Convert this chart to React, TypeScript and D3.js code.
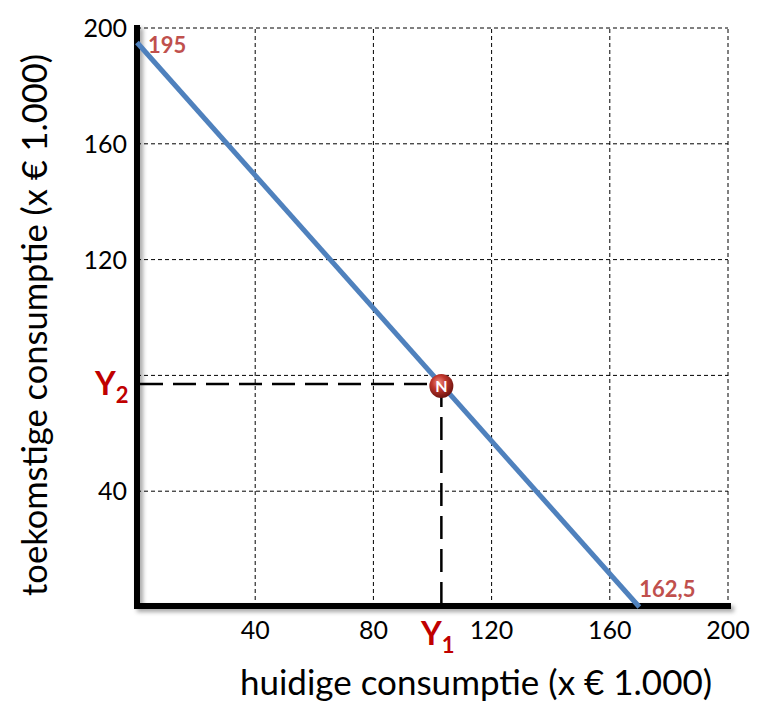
import React, { useEffect, useRef } from 'react';
import * as d3 from 'd3';

const xTicks = [40, 80, 120, 160, 200];
const yTickLabels = [40, 120, 160, 200];
const yGrid = [40, 80, 120, 160, 200];
const budgetLine = [
  { x: 0, y: 195 },
  { x: 170, y: 0 },
];
const pointN = { x: 103, y: 77 };
const startLabel = '195';
const endLabel = '162,5';

const App: React.FC = () => {
  const svgRef = useRef<SVGSVGElement>(null);
  const width = 769;
  const height = 728;

  useEffect(() => {
    if (!svgRef.current) return;
    const svg = d3.select(svgRef.current);
    svg.selectAll('*').remove();

    const font = "Lato, 'Open Sans', 'Liberation Sans', sans-serif";

    const x = d3.scaleLinear().domain([0, 200]).range([137, 728]);
    const y = d3.scaleLinear().domain([0, 200]).range([607, 28]);

    const defs = svg.append('defs');
    const shadow = defs.append('filter').attr('id', 'shadow')
      .attr('x', '-10%').attr('y', '-10%').attr('width', '120%').attr('height', '120%');
    shadow.append('feDropShadow')
      .attr('dx', 3).attr('dy', 3).attr('stdDeviation', 2)
      .attr('flood-color', '#000').attr('flood-opacity', 0.35);

    const grad = defs.append('radialGradient').attr('id', 'ball')
      .attr('cx', '40%').attr('cy', '35%').attr('r', '65%');
    grad.append('stop').attr('offset', '0%').attr('stop-color', '#f08a80');
    grad.append('stop').attr('offset', '45%').attr('stop-color', '#c0362c');
    grad.append('stop').attr('offset', '100%').attr('stop-color', '#6e1410');

    // Grid
    const grid = svg.append('g');
    grid.selectAll('.vg').data(xTicks).enter().append('line')
      .attr('x1', d => x(d)).attr('x2', d => x(d))
      .attr('y1', y(0)).attr('y2', y(200))
      .attr('stroke', '#000').attr('stroke-width', 1).attr('stroke-dasharray', '4,3');
    grid.selectAll('.hg').data(yGrid).enter().append('line')
      .attr('x1', x(0)).attr('x2', x(200))
      .attr('y1', d => y(d)).attr('y2', d => y(d))
      .attr('stroke', '#000').attr('stroke-width', 1).attr('stroke-dasharray', '4,3');

    // Axes
    const axes = svg.append('g').attr('filter', 'url(#shadow)');
    axes.append('line')
      .attr('x1', x(0)).attr('x2', x(0))
      .attr('y1', y(200) - 3).attr('y2', y(0) + 2)
      .attr('stroke', '#000').attr('stroke-width', 6);
    axes.append('line')
      .attr('x1', x(0) - 3).attr('x2', x(200) + 3)
      .attr('y1', y(0) - 1).attr('y2', y(0) - 1)
      .attr('stroke', '#000').attr('stroke-width', 6);

    // Tick labels
    svg.selectAll('.xt').data(xTicks).enter().append('text')
      .attr('x', d => x(d)).attr('y', 639)
      .attr('text-anchor', 'middle')
      .style('font-family', font).style('font-size', '25px').style('fill', '#000')
      .text(d => d);
    svg.selectAll('.yt').data(yTickLabels).enter().append('text')
      .attr('x', 127).attr('y', d => y(d) + 9)
      .attr('text-anchor', 'end')
      .style('font-family', font).style('font-size', '25px').style('fill', '#000')
      .text(d => d);

    // Dashed guides to N
    svg.append('line')
      .attr('x1', x(0) + 3).attr('x2', x(pointN.x))
      .attr('y1', y(pointN.y)).attr('y2', y(pointN.y))
      .attr('stroke', '#000').attr('stroke-width', 2.5).attr('stroke-dasharray', '23,10');
    svg.append('line')
      .attr('x1', x(pointN.x)).attr('x2', x(pointN.x))
      .attr('y1', y(pointN.y)).attr('y2', y(0) - 3)
      .attr('stroke', '#000').attr('stroke-width', 2.5).attr('stroke-dasharray', '23,10');

    // Budget line
    const lineGen = d3.line<{ x: number; y: number }>().x(d => x(d.x)).y(d => y(d.y));
    svg.append('path')
      .datum(budgetLine)
      .attr('d', lineGen)
      .attr('fill', 'none')
      .attr('stroke', '#4F81BD')
      .attr('stroke-width', 5);

    svg.append('text')
      .attr('x', x(budgetLine[0].x) + 11).attr('y', y(budgetLine[0].y) + 11)
      .style('font-family', font).style('font-size', '22px').style('font-weight', 'bold')
      .style('fill', '#C0504D')
      .text(startLabel);
    svg.append('text')
      .attr('x', x(budgetLine[1].x)).attr('y', y(budgetLine[1].y) - 10)
      .style('font-family', font).style('font-size', '22px').style('font-weight', 'bold')
      .style('fill', '#C0504D')
      .text(endLabel);

    // Point N
    svg.append('circle')
      .attr('cx', x(pointN.x)).attr('cy', y(pointN.y) + 2)
      .attr('r', 12)
      .attr('fill', 'url(#ball)');
    svg.append('text')
      .attr('x', x(pointN.x)).attr('y', y(pointN.y) + 8)
      .attr('text-anchor', 'middle')
      .style('font-family', font).style('font-size', '16px').style('font-weight', 'bold')
      .style('fill', '#fff')
      .text('N');

    // Y1 and Y2 labels
    const y2 = svg.append('text')
      .attr('x', 95).attr('y', y(pointN.y) + 11)
      .style('font-family', font).style('font-weight', 'bold').style('fill', '#C00000');
    y2.append('tspan').style('font-size', '32px').text('Y');
    y2.append('tspan').attr('dy', 8).style('font-size', '22px').text('2');

    const y1 = svg.append('text')
      .attr('x', 421).attr('y', 645)
      .style('font-family', font).style('font-weight', 'bold').style('fill', '#C00000');
    y1.append('tspan').style('font-size', '32px').text('Y');
    y1.append('tspan').attr('dy', 8).style('font-size', '22px').text('1');

    // Axis titles
    svg.append('text')
      .attr('x', 476).attr('y', 695)
      .attr('text-anchor', 'middle')
      .style('font-family', font).style('font-size', '35px').style('fill', '#000')
      .text('huidige consumptie (x € 1.000)');
    svg.append('text')
      .attr('transform', 'translate(47,325) rotate(-90)')
      .attr('text-anchor', 'middle')
      .style('font-family', font).style('font-size', '34.5px').style('fill', '#000')
      .text('toekomstige consumptie (x € 1.000)');
  }, []);

  return (
    <svg
      ref={svgRef}
      width={width}
      height={height}
      style={{ position: 'absolute', left: 0, top: 0, background: '#fff' }}
    />
  );
};

export default App;
